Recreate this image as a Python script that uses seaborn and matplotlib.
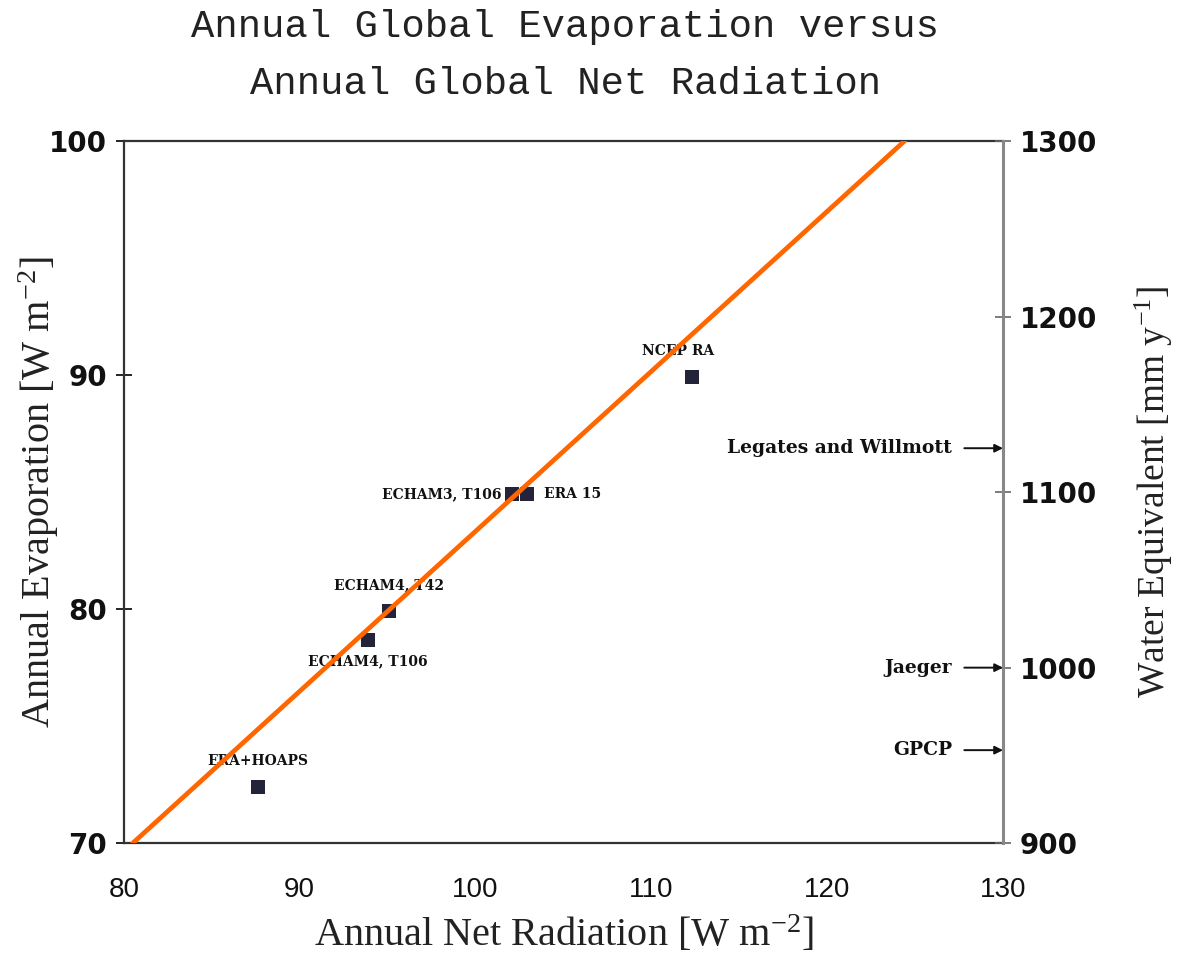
import matplotlib
matplotlib.use("Agg")
import matplotlib.pyplot as plt
import seaborn as sns
import pandas as pd

# Model / reanalysis estimates of global annual means
models = ["NCEP RA", "ERA 15", "ECHAM3, T106", "ECHAM4, T42", "ECHAM4, T106", "ERA+HOAPS"]
net_radiation = [112.3, 102.9, 102.1, 95.1, 93.9, 87.6]
evaporation = [89.9, 84.9, 84.9, 79.9, 78.7, 72.4]

# Fitted relationship line
fit_x = [80.5, 124.4]
fit_y = [70.0, 100.0]

# Observational climatologies (water equivalent, mm/yr)
obs_names = ["Legates and Willmott", "Jaeger", "GPCP"]
obs_values = [1125, 1000, 953]

x_ticks = [80, 90, 100, 110, 120, 130]
y_ticks = [70, 80, 90, 100]
y2_ticks = [900, 1000, 1100, 1200, 1300]

# label offsets (pixels) and alignment for each model point
label_offsets = [(-14, 26, "center"), (17, 0, "left"), (-11, 0, "right"),
                 (0, 26, "center"), (0, -22, "center"), (0, 26, "center")]

sns.set_theme(style="white")
plt.rcParams["font.family"] = ["DejaVu Sans"]
plt.rcParams["mathtext.fontset"] = "custom"
plt.rcParams["mathtext.rm"] = "Liberation Serif"
plt.rcParams["mathtext.it"] = "Liberation Serif:italic"
plt.rcParams["mathtext.bf"] = "Liberation Serif:bold"

df = pd.DataFrame({"model": models, "rn": net_radiation, "e": evaporation})
fit = pd.DataFrame({"x": fit_x, "y": fit_y})

fig = plt.figure(figsize=(11.8, 9.56), dpi=100)
ax = fig.add_axes([0.105, 0.118, 0.745, 0.7345])

sns.scatterplot(data=df, x="rn", y="e", ax=ax, marker="s", s=100,
                color="#23233a", edgecolor="#23233a", linewidth=0, zorder=3)
sns.lineplot(data=fit, x="x", y="y", ax=ax, color="#ff6600", linewidth=3.4, zorder=4)

ax.set_xlim(80, 130)
ax.set_ylim(70, 100)
ax.set_xticks(x_ticks)
ax.set_yticks(y_ticks)

serif = ["Liberation Serif", "DejaVu Serif"]
narrow = ["Liberation Sans Narrow", "Liberation Sans", "DejaVu Sans"]
label_font = ["DejaVu Serif"]

ax.set_xticklabels([str(v) for v in x_ticks], family=narrow, fontsize=20)
ax.set_yticklabels([str(v) for v in y_ticks], family=["DejaVu Sans"],
                   fontsize=20, fontweight="bold")
ax.tick_params(axis="x", direction="inout", length=12, width=1.2, pad=18, colors="black")
ax.tick_params(axis="y", direction="inout", length=12, width=1.2, pad=6, colors="black")
for lab in ax.get_xticklabels() + ax.get_yticklabels():
    lab.set_color("#111111")

ax.set_xlabel(r"Annual Net Radiation [W m$^{-2}$]", family=serif, fontsize=29,
              color="#222222")
ax.xaxis.set_label_coords(0.5, -0.102)
ax.set_ylabel(r"Annual Evaporation [W m$^{-2}$]", family=serif, fontsize=29,
              color="#222222")
ax.yaxis.set_label_coords(-0.072, 0.5)

for side in ["left", "bottom", "top"]:
    ax.spines[side].set_color("#333333")
    ax.spines[side].set_linewidth(1.6)
ax.spines["right"].set_visible(False)

for name, x, y, (dx, dy, ha) in zip(models, net_radiation, evaporation, label_offsets):
    ax.annotate(name, (x, y), xytext=(dx, dy), textcoords="offset pixels",
                ha=ha, va="center", fontsize=10, fontweight="bold",
                family=label_font, color="#111111")

# Water-equivalent axis on the right
ax2 = ax.twinx()
ax2.set_ylim(900, 1300)
ax2.set_yticks(y2_ticks)
ax2.set_yticklabels([str(v) for v in y2_ticks], family=["DejaVu Sans"],
                    fontsize=20, fontweight="bold", color="#111111")
ax2.tick_params(axis="y", direction="inout", length=12, width=1.2, pad=6, colors="#666666")
for lab in ax2.get_yticklabels():
    lab.set_color("#111111")
ax2.spines["right"].set_color("#888888")
ax2.spines["right"].set_linewidth(2.2)
for side in ["left", "bottom", "top"]:
    ax2.spines[side].set_visible(False)
ax2.set_ylabel(r"Water Equivalent [mm y$^{-1}$]", family=serif, fontsize=27,
               color="#222222")
ax2.yaxis.set_label_coords(1.148, 0.5)
ax2.grid(False)

for name, v in zip(obs_names, obs_values):
    ax2.annotate("", xy=(130, v), xytext=(127.8, v),
                 arrowprops=dict(arrowstyle="-|>", color="#111111", lw=1.4,
                                 mutation_scale=12, shrinkA=0, shrinkB=0))
    ax2.text(127.1, v, name, ha="right", va="center", fontsize=13.5,
             fontweight="bold", family=label_font, color="#111111")

mono = ["Liberation Mono", "DejaVu Sans Mono"]
fig.text(0.479, 0.972, "Annual Global Evaporation versus", ha="center", va="center",
         family=mono, fontsize=28, color="#222222")
fig.text(0.479, 0.912, "Annual Global Net Radiation", ha="center", va="center",
         family=mono, fontsize=28, color="#222222")

fig.savefig("out.png", dpi=100, facecolor="white")
